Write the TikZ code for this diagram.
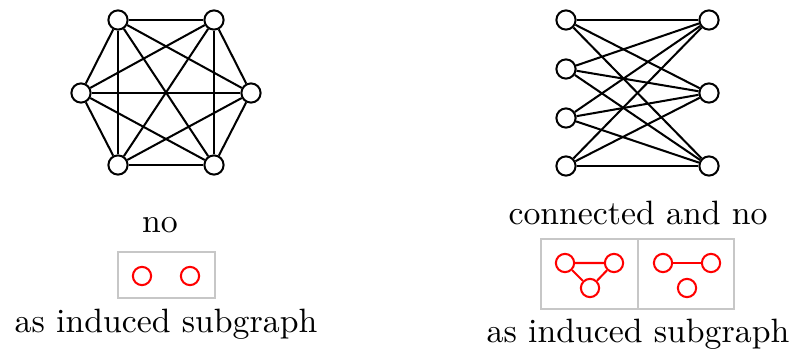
\documentclass[tikz,border=0pt]{standalone}
\usepackage{amsmath}
\usetikzlibrary{arrows.meta}

\begin{document}
\begin{tikzpicture}[
    x=0.0104cm, y=-0.0104cm,
    vertex/.style={circle, draw, fill=white, semithick, inner sep=0pt, minimum size=0.2cm},
    small/.style={circle, draw=red, fill=white, semithick, inner sep=0pt, minimum size=0.19cm},
    edge/.style={semithick},
    redge/.style={red, semithick},
    frame/.style={draw=black!22, line width=0.6pt}]
    \useasboundingbox (0,0) rectangle (792,350);

    % Complete graph on six vertices
    \node[vertex] (a1) at (118,20) {};
    \node[vertex] (a2) at (214,20) {};
    \node[vertex] (a3) at (251,93) {};
    \node[vertex] (a4) at (214,165) {};
    \node[vertex] (a5) at (118,165) {};
    \node[vertex] (a6) at (81,93) {};
    \foreach \i/\j in {1/2,1/3,1/4,1/5,1/6,2/3,2/4,2/5,2/6,3/4,3/5,3/6,4/5,4/6,5/6}
        \draw[edge] (a\i) -- (a\j);

    % Complete bipartite graph
    \node[vertex] (b1) at (566,20) {};
    \node[vertex] (b2) at (566,69) {};
    \node[vertex] (b3) at (566,118) {};
    \node[vertex] (b4) at (566,166) {};
    \node[vertex] (c1) at (709,20) {};
    \node[vertex] (c2) at (709,93) {};
    \node[vertex] (c3) at (709,166) {};
    \foreach \i in {1,...,4}
        \foreach \j in {1,2,3}
            \draw[edge] (b\i) -- (c\j);

    % Labels and forbidden subgraphs, left
    \node[anchor=base] (noL) at (160,233) {no};
    \node[frame, minimum width=1.009cm, minimum height=0.478cm] (boxL) at (166.5,275) {};
    \node[small] (p1) at (142,276) {};
    \node[small] (p2) at (190,276) {};
    \node[anchor=base] (indL) at (166,332) {as induced subgraph};

    % Labels and forbidden subgraphs, right
    \node[anchor=base] (conR) at (638,225) {connected and no};
    \node[frame, minimum width=1.009cm, minimum height=0.728cm] (boxR1) at (589.5,274) {};
    \node[frame, minimum width=0.998cm, minimum height=0.728cm] (boxR2) at (686,274) {};
    \node[small] (t1) at (565,263) {};
    \node[small] (t2) at (614,263) {};
    \node[small] (t3) at (590,288) {};
    \draw[redge] (t1) -- (t2) -- (t3) -- (t1);
    \node[small] (u1) at (663,263) {};
    \node[small] (u2) at (711,263) {};
    \node[small] (u3) at (687,288) {};
    \draw[redge] (u1) -- (u2);
    \node[anchor=base] (indR) at (638,342) {as induced subgraph};
\end{tikzpicture}
\end{document}
